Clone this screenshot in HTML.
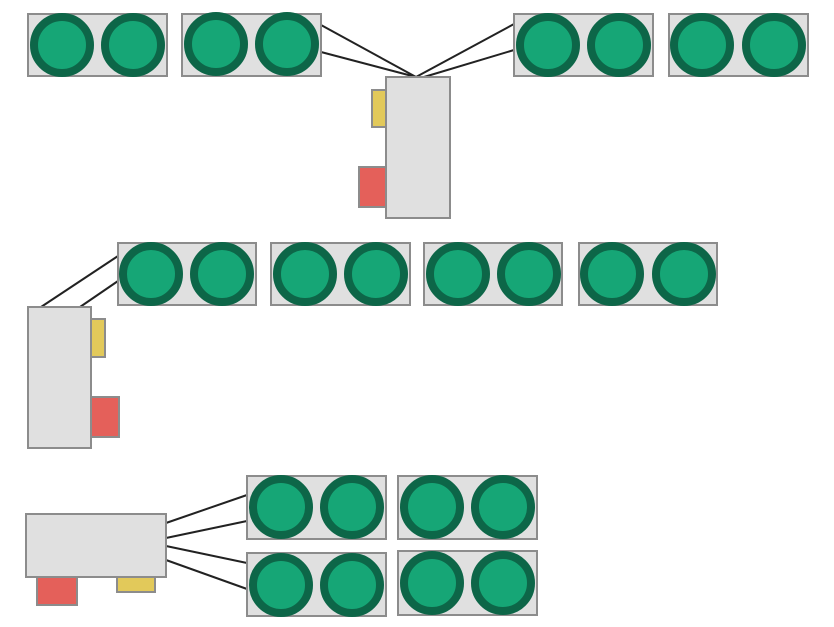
<!DOCTYPE html>
<html><head><style>body{margin:0;background:#fff}svg{display:block}</style></head><body>
<svg width="834" height="627" viewBox="0 0 834 627" xmlns="http://www.w3.org/2000/svg">
<defs>
<g id="c"><circle r="28" fill="#16a676" stroke="#0d6648" stroke-width="8"/></g>
</defs>
<g stroke="#222" stroke-width="2" fill="none">
<line x1="416" y1="77" x2="321" y2="25"/><line x1="416" y1="77" x2="321" y2="52"/>
<line x1="416" y1="77" x2="514" y2="24"/><line x1="424" y1="77" x2="514" y2="50"/>
<line x1="41" y1="307" x2="118" y2="256"/><line x1="80" y1="307" x2="118" y2="281"/>
<line x1="166" y1="523" x2="247" y2="495"/><line x1="166" y1="538" x2="247" y2="521"/>
<line x1="166" y1="546" x2="247" y2="563"/><line x1="166" y1="560" x2="247" y2="589"/>
</g>
<g fill="#e0e0e0" stroke="#8c8c8c" stroke-width="2">
<rect x="28" y="14" width="139" height="62"/><rect x="182" y="14" width="139" height="62"/>
<rect x="514" y="14" width="139" height="62"/><rect x="669" y="14" width="139" height="62"/>
<rect x="118" y="243" width="138" height="62"/><rect x="271" y="243" width="139" height="62"/>
<rect x="424" y="243" width="138" height="62"/><rect x="579" y="243" width="138" height="62"/>
<rect x="247" y="476" width="139" height="63"/><rect x="398" y="476" width="139" height="63"/>
<rect x="247" y="553" width="139" height="63"/><rect x="398" y="551" width="139" height="64"/>
<rect x="386" y="77" width="64" height="141"/>
<rect x="28" y="307" width="63" height="141"/>
<rect x="26" y="514" width="140" height="63"/>
</g>
<g stroke="#8c8c8c" stroke-width="2">
<rect x="372" y="90" width="14" height="37" fill="#e2c95a"/>
<rect x="359" y="167" width="27" height="40" fill="#e4605a"/>
<rect x="91" y="319" width="14" height="38" fill="#e2c95a"/>
<rect x="91" y="397" width="28" height="40" fill="#e4605a"/>
<rect x="37" y="577" width="40" height="28" fill="#e4605a"/>
<rect x="117" y="577" width="38" height="15" fill="#e2c95a"/>
</g>
<g>
<use href="#c" x="62" y="45"/><use href="#c" x="133" y="45"/>
<use href="#c" x="216" y="44"/><use href="#c" x="287" y="44"/>
<use href="#c" x="548" y="45"/><use href="#c" x="619" y="45"/>
<use href="#c" x="702" y="45"/><use href="#c" x="774" y="45"/>
<use href="#c" x="151" y="274"/><use href="#c" x="222" y="274"/>
<use href="#c" x="305" y="274"/><use href="#c" x="376" y="274"/>
<use href="#c" x="458" y="274"/><use href="#c" x="529" y="274"/>
<use href="#c" x="612" y="274"/><use href="#c" x="684" y="274"/>
<use href="#c" x="281" y="507"/><use href="#c" x="352" y="507"/>
<use href="#c" x="432" y="507"/><use href="#c" x="503" y="507"/>
<use href="#c" x="281" y="585"/><use href="#c" x="352" y="585"/>
<use href="#c" x="432" y="583"/><use href="#c" x="503" y="583"/>
</g>
</svg>
</body></html>
